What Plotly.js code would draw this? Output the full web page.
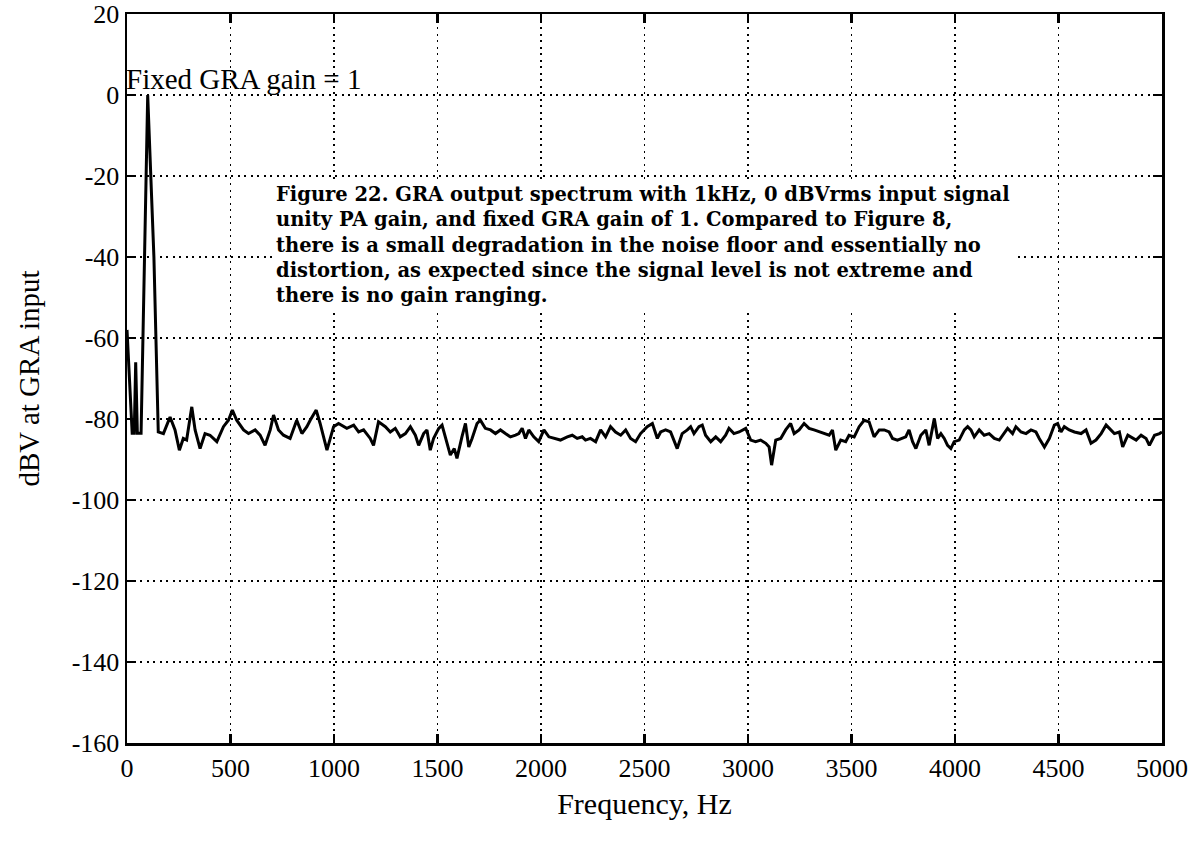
<!DOCTYPE html>
<html>
<head>
<meta charset="utf-8">
<script src="https://cdn.plot.ly/plotly-3.0.1.min.js"></script>
<style>html,body{margin:0;padding:0;background:#fff;}#chart{width:1199px;height:848px;}</style>
</head>
<body>
<div id="chart"></div>
<script>
// Frequency (Hz) and level (dBV at GRA input)
const freq = [0,15,25,35,42,50,68,100,130,151,
176,208,232,253,272,288,313,329,353,377,401,434,466,490,509,530,563,587,619,643,667,692,708,732,756,788,820,845,869,885,914,933,966,998,1022,1062,1095,1119,1143,1175,1191,1215,
1248,1272,1296,1320,1345,1369,1393,1409,1433,1449,1465,1481,1506,1522,1546,1562,1581,1594,1618,1635,1651,1667,1691,1707,1731,1756,1780,1804,1828,1852,1877,1893,1909,1925,1941,1965,1989,2014,2038,2062,2094,2127,2151,2175,2199,2215,2239,2264,2288,2312,2336,2360,2385,2409,2433,2457,2481,2513,2538,2562,
2578,2602,2626,2658,2682,2707,2723,2739,2763,2779,2795,2820,2844,2868,2892,2908,2932,2957,2973,2989,3013,3037,3061,3086,3102,3114,3134,3158,3182,3206,3223,3247,3271,3295,3319,3344,3368,3392,3408,3424,3448,3472,3488,3513,3537,3561,3585,3609,3634,3658,3682,3698,3722,
3738,3762,3778,3795,3811,3835,3859,3875,3900,3916,3932,3948,3964,3980,3996,4020,4045,4061,4077,4093,4117,4141,4165,4190,4214,4238,4254,4278,4294,4319,4343,4367,4391,4407,4432,4456,4480,4496,4512,4528,4552,4577,4609,4633,4657,4681,4706,4730,4746,4770,4794,4810,4835,4859,4875,4899,4923,4939,4964,4988,5000];
const level = [-58,-72,-83.5,-83.5,-66,-83.5,-83.5,0,-40,-83.2,
-83.6,-79.5,-82.7,-87.7,-84.8,-85.2,-77.0,-82.7,-87.3,-83.6,-84.0,-85.6,-81.9,-80.3,-77.8,-80.3,-82.7,-83.6,-82.7,-84.0,-86.5,-82.7,-79.0,-82.7,-84.0,-84.8,-80.3,-83.6,-81.9,-80.3,-77.8,-81.1,-87.7,-81.9,-81.1,-82.3,-81.5,-83.2,-82.7,-84.8,-86.5,-80.7,
-81.9,-83.2,-82.3,-84.4,-83.6,-81.9,-84.0,-86.5,-83.6,-82.7,-87.7,-84.8,-82.3,-81.5,-86.0,-88.9,-87.3,-89.7,-84.4,-81.1,-86.9,-84.8,-81.1,-80.3,-82.3,-82.7,-83.6,-82.7,-83.6,-84.4,-84.0,-83.6,-82.3,-84.8,-82.7,-84.4,-85.6,-82.7,-84.4,-84.8,-85.2,-84.4,-84.0,-84.8,-84.4,-85.2,-84.8,-85.6,-82.7,-84.4,-81.9,-83.2,-84.0,-82.7,-84.8,-85.6,-83.6,-81.9,-81.1,-84.8,
-83.2,-82.7,-83.2,-87.3,-83.6,-82.7,-81.9,-83.6,-81.9,-81.5,-84.0,-85.6,-84.4,-85.6,-84.0,-82.3,-83.6,-83.2,-82.7,-82.3,-85.2,-85.6,-85.2,-86.0,-86.9,-91.4,-85.2,-84.8,-82.7,-81.1,-83.6,-82.7,-81.1,-82.3,-82.7,-83.2,-83.6,-84.0,-82.7,-87.7,-85.2,-85.6,-84.0,-84.4,-81.9,-80.3,-80.7,-84.4,-82.7,-82.7,-83.2,-84.8,-85.2,
-84.8,-84.4,-82.7,-85.6,-87.3,-84.0,-82.7,-86.5,-79.9,-84.8,-83.6,-84.8,-86.5,-87.3,-85.6,-85.2,-82.7,-81.9,-82.7,-84.4,-82.7,-84.0,-83.6,-84.8,-85.2,-83.6,-82.3,-83.6,-81.9,-83.2,-83.6,-82.7,-83.2,-84.8,-86.9,-84.8,-81.5,-81.1,-83.2,-81.9,-82.7,-83.2,-83.6,-82.7,-86.0,-85.2,-83.6,-81.5,-82.3,-83.6,-83.2,-86.9,-84.0,-84.8,-85.2,-84.0,-84.8,-86.5,-84.0,-83.6,-83.2];

const xTicks = [0,500,1000,1500,2000,2500,3000,3500,4000,4500,5000];
const yTicks = [20,0,-20,-40,-60,-80,-100,-120,-140,-160];
const xTitle = "Frequency, Hz";
const yTitle = "dBV at GRA input";
const labelText = "Fixed GRA gain = 1";
const captionLines = [
  "Figure 22. GRA output spectrum with 1kHz, 0 dBVrms input signal",
  "unity PA gain, and fixed GRA gain of 1. Compared to Figure 8,",
  "there is a small degradation in the noise floor and essentially no",
  "distortion, as expected since the signal level is not extreme and",
  "there is no gain ranging."
];

const serif = "Liberation Serif, Times New Roman, serif";

const axisCommon = {
  showline: true, linecolor: "#000", linewidth: 2.5, mirror: "ticks",
  ticks: "inside", ticklen: 9, tickwidth: 2.5, tickcolor: "#000",
  showgrid: true, gridcolor: "#000", gridwidth: 1.6, griddash: "2px,4.5px",
  zeroline: false,
  tickfont: {family: serif, size: 26, color: "#000"}
};

const trace = {
  x: freq, y: level, type: "scatter", mode: "lines",
  line: {color: "#000", width: 3}, hoverinfo: "skip"
};

const layout = {
  width: 1199, height: 848,
  margin: {l: 127, r: 37, t: 14, b: 105},
  paper_bgcolor: "#fff", plot_bgcolor: "#fff",
  showlegend: false,
  xaxis: Object.assign({}, axisCommon, {
    range: [0, 5000], tickvals: xTicks, ticktext: xTicks.map(String),
    title: {text: xTitle, font: {family: serif, size: 30, color: "#000"}, standoff: 12}
  }),
  yaxis: Object.assign({}, axisCommon, {
    range: [-160, 20], tickvals: yTicks, ticktext: yTicks.map(String),
    title: {text: yTitle, font: {family: serif, size: 29, color: "#000"}, standoff: 24}
  }),
  annotations: [
    {xref: "x", yref: "y", x: 0, y: 4, xanchor: "left", yanchor: "middle", xshift: -3,
     text: labelText, showarrow: false, font: {family: serif, size: 29, color: "#000"}},
    {xref: "x", yref: "y", x: 700, y: -20.8, xanchor: "left", yanchor: "top",
     align: "left", text: captionLines.join("<br>"), showarrow: false,
     bgcolor: "#fff", borderpad: 3,
     font: {family: "DejaVu Serif, serif", size: 19.5, weight: "bold", color: "#000"}}
  ]
};

Plotly.newPlot("chart", [trace], layout, {staticPlot: true, displayModeBar: false});
</script>
</body>
</html>
